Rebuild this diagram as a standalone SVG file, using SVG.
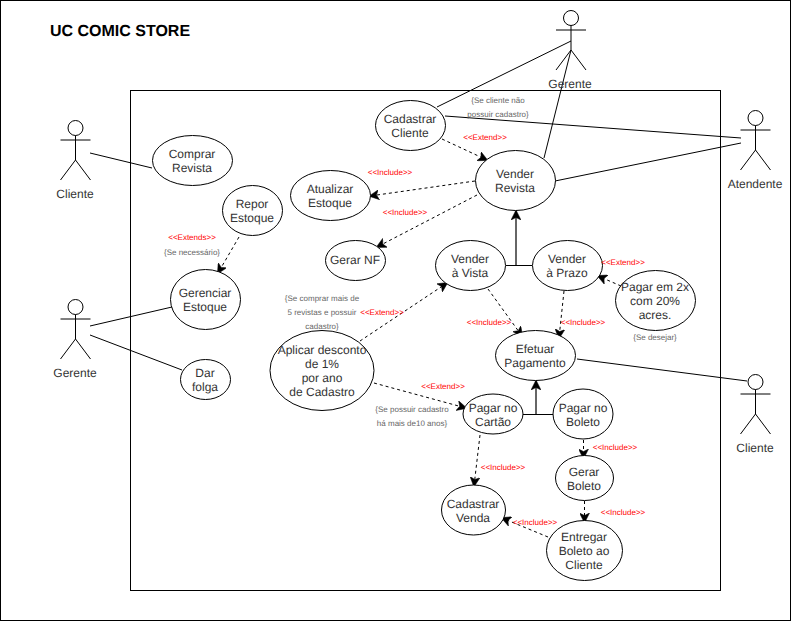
<svg xmlns="http://www.w3.org/2000/svg" width="791" height="622" viewBox="0 0 791 622">
<style>
text{font-family:"Liberation Sans",Arial,Helvetica,sans-serif;text-anchor:middle;text-rendering:geometricPrecision}
.n{font-size:12px;fill:#333}
.e{fill:#fff;stroke:#000;stroke-width:1}
.l{fill:none;stroke:#000;stroke-width:1}
.d{fill:none;stroke:#000;stroke-width:1;stroke-dasharray:3 3;marker-end:url(#a)}
.s{fill:none;stroke:#666;stroke-width:2;marker-end:url(#a)}
.r{font-size:8px;fill:#f00}
.g{font-size:8px;fill:#666}
.act{fill:none;stroke:#000;stroke-width:1}
</style>
<defs>
<marker id="a" markerUnits="userSpaceOnUse" viewBox="0 0 10 10" refX="9" refY="5" markerWidth="10" markerHeight="10" orient="auto"><path d="M0 0L10 5L0 10L2.500 5Z" fill="#000" stroke="#000" stroke-width="0.5"/></marker>
<g id="stick"><circle cx="0" cy="8" r="7.500" class="act"/><path class="act" d="M0 15.500V40M-15 20H15M-15 60L0 40L15 60"/></g>
</defs>
<rect x="0.500" y="0.500" width="790" height="620" fill="#fff" stroke="#000"/>
<rect x="130.500" y="90.500" width="590" height="500" fill="none" stroke="#000"/>
<text x="120" y="36" style="font-size:16px;font-weight:bold;fill:#000">UC COMIC STORE</text>
<g id="connectors">
<path class="l" d="M437 107L571 41M445 116L741 138M544 158L571 50M555 181L741 143"/>
<path class="l" d="M90 153L152 168M90 326L172 307M90 335L182 370"/>
<path class="l" d="M506 265.500H532M523 414.500H553M577 359L747 381"/>
<path class="s" d="M516 265V211"/>
<path class="s" d="M536 414V381"/>
<path class="d" d="M442 139L487 160"/>
<path class="d" d="M475 181L370 196"/>
<path class="d" d="M477 195L377 247"/>
<path class="d" d="M239 237L218 273"/>
<path class="d" d="M360 341L447 283"/>
<path class="d" d="M374 383L466 408"/>
<path class="d" d="M488 289L522 336"/>
<path class="d" d="M564 291L559 338"/>
<path class="d" d="M621 286L598 276"/>
<path class="d" d="M480 435L474 486"/>
<path class="d" d="M583.500 440V458"/>
<path class="d" d="M584.500 501V522"/>
<path class="d" d="M548 537L502 518"/>
</g>
<g id="actor-cliente1"><use href="#stick" x="75.500" y="120"/><text class="n" x="75" y="198">Cliente</text></g>
<g id="actor-gerente1"><use href="#stick" x="75.500" y="299"/><text class="n" x="75" y="377">Gerente</text></g>
<g id="actor-gerente2"><use href="#stick" x="571" y="10"/><text class="n" x="570" y="88">Gerente</text></g>
<g id="actor-atendente"><use href="#stick" x="755.500" y="110"/><text class="n" x="755" y="188">Atendente</text></g>
<g id="actor-cliente2"><use href="#stick" x="755.500" y="374"/><text class="n" x="755" y="452">Cliente</text></g>
<g id="comprar"><ellipse class="e" cx="192.500" cy="160.500" rx="40" ry="25"/><text class="n" x="192" y="158">Comprar</text><text class="n" x="192" y="172">Revista</text></g>
<g id="repor"><ellipse class="e" cx="252.500" cy="210.500" rx="30" ry="25"/><text class="n" x="252" y="208">Repor</text><text class="n" x="252" y="222">Estoque</text></g>
<g id="gerenciar"><ellipse class="e" cx="205.500" cy="299.500" rx="35" ry="30"/><text class="n" x="205" y="297">Gerenciar</text><text class="n" x="205" y="311">Estoque</text></g>
<g id="folga"><ellipse class="e" cx="205.500" cy="379.500" rx="25" ry="20"/><text class="n" x="205" y="377">Dar</text><text class="n" x="205" y="391">folga</text></g>
<g id="cadastrar-cliente"><ellipse class="e" cx="410.500" cy="125.500" rx="35" ry="25"/><text class="n" x="410" y="123">Cadastrar</text><text class="n" x="410" y="137">Cliente</text></g>
<g id="vender-revista"><ellipse class="e" cx="515.500" cy="180.500" rx="40" ry="30"/><text class="n" x="515" y="178">Vender</text><text class="n" x="515" y="192">Revista</text></g>
<g id="atualizar"><ellipse class="e" cx="330.500" cy="195.500" rx="40" ry="25"/><text class="n" x="330" y="193">Atualizar</text><text class="n" x="330" y="207">Estoque</text></g>
<g id="gerar-nf"><ellipse class="e" cx="355.500" cy="260.500" rx="30" ry="20"/><text class="n" x="355" y="264">Gerar NF</text></g>
<g id="vista"><ellipse class="e" cx="470.500" cy="265.500" rx="35" ry="25"/><text class="n" x="470" y="263">Vender</text><text class="n" x="470" y="277">à Vista</text></g>
<g id="prazo"><ellipse class="e" cx="567.500" cy="265.500" rx="35" ry="25"/><text class="n" x="567" y="263">Vender</text><text class="n" x="567" y="277">à Prazo</text></g>
<g id="pagar2x"><ellipse class="e" cx="655.500" cy="300.500" rx="40" ry="30"/><text class="n" x="655" y="291">Pagar em 2x</text><text class="n" x="655" y="305">com 20%</text><text class="n" x="655" y="319">acres.</text></g>
<g id="efetuar"><ellipse class="e" cx="535.500" cy="355.500" rx="40" ry="25"/><text class="n" x="535" y="353">Efetuar</text><text class="n" x="535" y="367">Pagamento</text></g>
<g id="desconto"><ellipse class="e" cx="322" cy="370.500" rx="52" ry="40"/><text class="n" x="322" y="354">Aplicar desconto</text><text class="n" x="322" y="368">de 1%</text><text class="n" x="322" y="382">por ano</text><text class="n" x="322" y="396">de Cadastro</text></g>
<g id="cartao"><ellipse class="e" cx="493" cy="414" rx="30" ry="20"/><text class="n" x="493" y="412">Pagar no</text><text class="n" x="493" y="426">Cartão</text></g>
<g id="boleto"><ellipse class="e" cx="583" cy="414" rx="30" ry="25"/><text class="n" x="583" y="412">Pagar no</text><text class="n" x="583" y="426">Boleto</text></g>
<g id="gerar-boleto"><ellipse class="e" cx="584.500" cy="478" rx="29" ry="22.500"/><text class="n" x="584" y="476">Gerar</text><text class="n" x="584" y="490">Boleto</text></g>
<g id="cadastrar-venda"><ellipse class="e" cx="473.500" cy="510" rx="32" ry="25"/><text class="n" x="473" y="508">Cadastrar</text><text class="n" x="473" y="522">Venda</text></g>
<g id="entregar"><ellipse class="e" cx="584.500" cy="550.500" rx="38" ry="30"/><text class="n" x="584" y="541">Entregar</text><text class="n" x="584" y="555">Boleto ao</text><text class="n" x="584" y="569">Cliente</text></g>
<g id="labels">
<text class="g" x="498" y="103">{Se cliente não</text><text class="g" x="498" y="117">possuir cadastro}</text>
<text class="r" x="485" y="140">&lt;&lt;Extend&gt;&gt;</text>
<text class="r" x="390" y="175">&lt;&lt;Include&gt;&gt;</text>
<text class="r" x="405" y="215">&lt;&lt;Include&gt;&gt;</text>
<text class="r" x="192" y="240">&lt;&lt;Extends&gt;&gt;</text>
<text class="g" x="192" y="255">{Se necessário}</text>
<text class="g" x="322" y="301">{Se comprar mais de</text><text class="g" x="322" y="315">5 revistas e possuir</text><text class="g" x="322" y="329">cadastro}</text>
<text class="r" x="382" y="315">&lt;&lt;Extend&gt;&gt;</text>
<text class="r" x="489" y="325">&lt;&lt;Include&gt;&gt;</text>
<text class="r" x="583" y="325">&lt;&lt;Include&gt;&gt;</text>
<text class="r" x="623" y="265">&lt;&lt;Extend&gt;&gt;</text>
<text class="g" x="655" y="340">{Se desejar}</text>
<text class="r" x="443" y="389">&lt;&lt;Extend&gt;&gt;</text>
<text class="g" x="412" y="412">{Se possuir cadastro</text><text class="g" x="412" y="426">há mais de10 anos}</text>
<text class="r" x="503" y="470">&lt;&lt;Include&gt;&gt;</text>
<text class="r" x="615" y="450">&lt;&lt;Include&gt;&gt;</text>
<text class="r" x="623" y="515">&lt;&lt;Include&gt;&gt;</text>
<text class="r" x="535" y="525">&lt;&lt;Include&gt;&gt;</text>
</g>
</svg>
